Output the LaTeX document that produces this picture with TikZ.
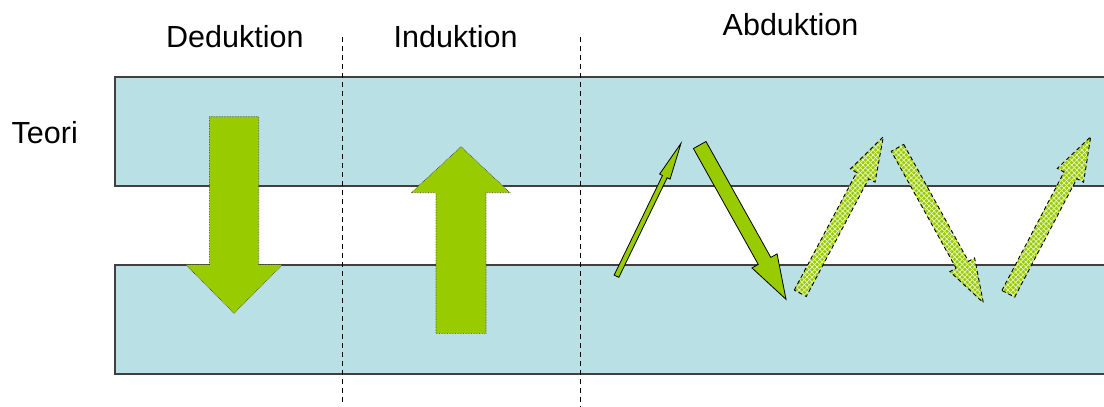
\documentclass[tikz,border=0pt]{standalone}
\usepackage{fontspec}
\setmainfont{Liberation Sans}
\usetikzlibrary{calc,patterns.meta}
\definecolor{bandblue}{RGB}{185,224,228}
\definecolor{bandedge}{RGB}{64,64,64}
\definecolor{agreen}{RGB}{153,204,0}
\newcommand\slantarrow[6]{%
  \coordinate (sA) at #2;
  \coordinate (sT) at #3;
  \coordinate (sH) at ($(sT)!#6!(sA)$);
  \path[#1] ($(sA)!#4!90:(sT)$) -- ($(sH)!#4!90:(sT)$) -- ($(sH)!#5!90:(sT)$) -- (sT)
    -- ($(sH)!#5!-90:(sT)$) -- ($(sH)!#4!-90:(sT)$) -- ($(sA)!#4!-90:(sT)$) -- cycle;
}
\begin{document}
\begin{tikzpicture}[x=1pt,y=-1pt,
  band/.style={fill=bandblue,draw=bandedge,line width=1.3pt},
  divider/.style={draw=black,line width=0.9pt,dash pattern=on 5pt off 4pt},
  label/.style={font=\fontsize{30.5}{34}\selectfont,inner sep=0pt,anchor=base west},
  blockarrow/.style={fill=agreen,draw=black!80,line width=0.6pt,densely dotted},
  solidarrow/.style={fill=agreen,draw=black,line width=0.8pt,line join=miter},
  hatcharrow/.style={preaction={fill=agreen},
    pattern={Lines[angle=45,distance=3.6pt,line width=0.7pt]},pattern color=white!80!agreen,
    postaction={pattern={Lines[angle=-45,distance=3.6pt,line width=0.7pt]},pattern color=white!80!agreen},
    postaction={draw=black,line width=0.9pt,dash pattern=on 4pt off 3pt}}]
\useasboundingbox (0,0) rectangle (1104,407);
\clip (0,0) rectangle (1104,407);
% bands
\path[band] (115,77) rectangle (1112,186);
\path[band] (115,265) rectangle (1112,374);
% dividers
\coordinate (d1top) at (342.5,37);
\coordinate (d1bot) at (342.5,404);
\coordinate (d2top) at (580,37);
\coordinate (d2bot) at (580,408);
\draw[divider] (d1top) -- (d1bot);
\draw[divider] (d2top) -- (d2bot);
% labels
\node[label] (ded) at (166,47) {Deduktion};
\node[label] (ind) at (393.5,47) {Induktion};
\node[label] (abd) at (722.5,35) {Abduktion};
\node[label] (teo) at (11.5,143) {Teori};
% deduction arrow (down)
\path[blockarrow] (209.5,116.7) -- (258.7,116.7) -- (258.7,264.5) -- (282.7,264.5)
  -- (234,313.3) -- (185.7,264.5) -- (209.5,264.5) -- cycle;
% induction arrow (up)
\path[blockarrow] (436,333.3) -- (486,333.3) -- (486,192.7) -- (510,192.7)
  -- (461,146.7) -- (411.3,192.7) -- (436,192.7) -- cycle;
% abduction arrows
\slantarrow{solidarrow}{(616.5,276.2)}{(681,143.3)}{2.6pt}{5.8pt}{37pt}
\slantarrow{solidarrow}{(699.7,145)}{(786,299.3)}{7.2pt}{14.4pt}{44pt}
\slantarrow{hatcharrow}{(800.3,293.3)}{(883.3,136.7)}{6.8pt}{14pt}{44pt}
\slantarrow{hatcharrow}{(897.5,147.8)}{(983.3,302.7)}{7.1pt}{14.1pt}{43.4pt}
\slantarrow{hatcharrow}{(1008.3,293.8)}{(1090.7,136.7)}{7.2pt}{14.8pt}{43.6pt}
\end{tikzpicture}
\end{document}
